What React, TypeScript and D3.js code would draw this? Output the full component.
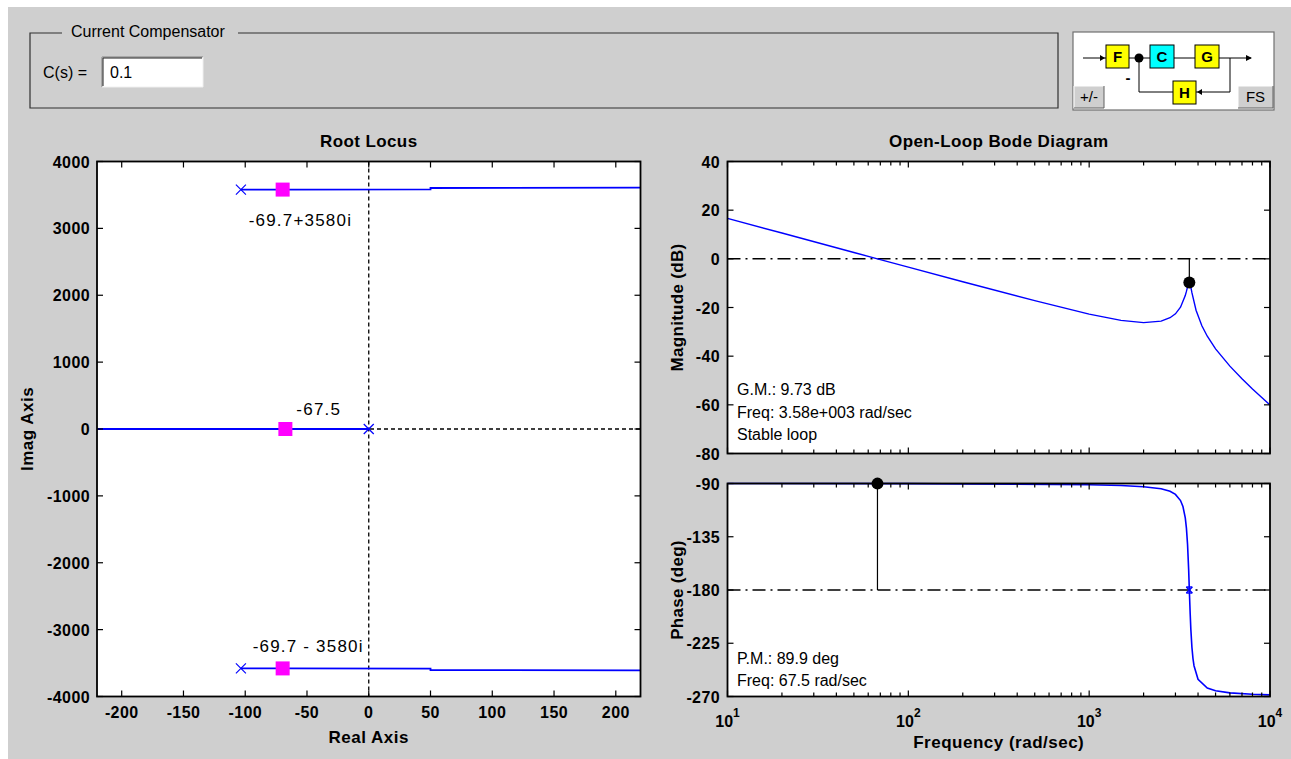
import React from "react";
import * as d3 from "d3";

// ---------- DATA ----------
const rlXTicks = [-200, -150, -100, -50, 0, 50, 100, 150, 200];
const rlYTicks = [-4000, -3000, -2000, -1000, 0, 1000, 2000, 3000, 4000];

// open-loop poles (re, im)
const olPoles: [number, number][] = [[-103.5, 3580], [-103.5, -3580], [0, 0]];
// closed-loop poles at current gain
const clPoles: [number, number][] = [[-69.7, 3580], [-67.5, 0], [-69.7, -3580]];
const clLabels = ["-69.7+3580i", "-67.5", "-69.7 - 3580i"];

// root locus branches (re, im)
const branchUpper: [number, number][] = [[-103.5, 3580], [-69.7, 3580], [50, 3582], [50, 3604], [220, 3608]];
const branchLower: [number, number][] = [[-103.5, -3580], [-69.7, -3580], [50, -3582], [50, -3604], [220, -3608]];
const branchReal: [number, number][] = [[0, 0], [-67.5, 0], [-220, 0]];

const magTicks = [40, 20, 0, -20, -40, -60, -80];
const phaseTicks = [-90, -135, -180, -225, -270];
const decadeTicks = [10, 100, 1000, 10000];
const decadeExp = ["1", "2", "3", "4"];

const magFreq = [10, 20, 50, 67.5, 100, 200, 500, 1000, 1500, 2000, 2500, 2800, 3000, 3200, 3400, 3450, 3500, 3550, 3580, 3620, 3650, 3700, 3900, 4200, 4500, 5000, 6000, 7000, 8000, 10000];
const magDb = [16.6, 10.6, 2.6, 0, -3.4, -9.4, -17.2, -22.7, -25.3, -26.2, -25.6, -24.2, -22.6, -19.9, -15.1, -13.4, -11.5, -10.0, -9.73, -10.5, -11.6, -13.9, -21.1, -27.5, -31.8, -37.0, -44.1, -49.3, -53.5, -60.1];

const phFreq = [10, 100, 1000, 1500, 2000, 2500, 2800, 3000, 3200, 3300, 3400, 3450, 3500, 3550, 3580, 3620, 3650, 3700, 3750, 3800, 4000, 4500, 5000, 6000, 8000, 10000];
const phDeg = [-90, -90.1, -91, -91.7, -92.7, -94.5, -96.6, -99.2, -104.4, -109.4, -119.1, -127.7, -141.5, -163, -180, -200.3, -213.3, -228.4, -237.9, -244, -255.4, -262.8, -265.1, -266.9, -268.1, -268.6];

const gmFreq = 3580;
const gmDb = -9.73;
const pmFreq = 67.5;
const pmPhase = -90.1;

const gmText = ["G.M.: 9.73 dB", "Freq: 3.58e+003 rad/sec", "Stable loop"];
const pmText = ["P.M.: 89.9 deg", "Freq: 67.5 rad/sec"];

// ---------- LAYOUT ----------
const BG = "#cfcfcf";
const FONT = "'Liberation Sans', Arial, sans-serif";
const RL = { l: 97, r: 640.5, t: 161.5, b: 696.5 };
const MAG = { l: 727.5, r: 1270, t: 161.5, b: 453.5 };
const PH = { l: 727.5, r: 1270, t: 483.5, b: 696.5 };
const labelOff: [number, number][] = [[-34, 36], [11, -14], [-30, -16]];

const rlX = d3.scaleLinear().domain([-220, 220]).range([RL.l, RL.r]);
const rlY = d3.scaleLinear().domain([-4000, 4000]).range([RL.b, RL.t]);
const fX = d3.scaleLog().domain([10, 10000]).range([MAG.l, MAG.r]);
const magY = d3.scaleLinear().domain([-80, 40]).range([MAG.b, MAG.t]);
const phY = d3.scaleLinear().domain([-270, -90]).range([PH.b, PH.t]);

const rlLine = d3.line<[number, number]>().x(d => rlX(d[0])).y(d => rlY(d[1]));
const magLine = d3.line<number>().x((_, i) => fX(magFreq[i])).y(d => magY(d));
const phLine = d3.line<number>().x((_, i) => fX(phFreq[i])).y(d => phY(d));

const minorTicks: number[] = [];
[10, 100, 1000].forEach(dec => { for (let k = 2; k <= 9; k++) minorTicks.push(dec * k); });

function Box({ b }: { b: { l: number; r: number; t: number; b: number } }) {
  return <rect x={b.l} y={b.t} width={b.r - b.l} height={b.b - b.t} fill="none" stroke="#000" strokeWidth={1.8} />;
}

function LogXTicks({ b }: { b: { l: number; r: number; t: number; b: number } }) {
  return (
    <g stroke="#000" strokeWidth={1.2}>
      {decadeTicks.map(v => (
        <g key={"M" + v}>
          <line x1={fX(v)} x2={fX(v)} y1={b.b} y2={b.b - 6} />
          <line x1={fX(v)} x2={fX(v)} y1={b.t} y2={b.t + 6} />
        </g>
      ))}
      {minorTicks.map(v => (
        <g key={"m" + v}>
          <line x1={fX(v)} x2={fX(v)} y1={b.b} y2={b.b - 4} />
          <line x1={fX(v)} x2={fX(v)} y1={b.t} y2={b.t + 4} />
        </g>
      ))}
    </g>
  );
}

function YTicks({ b, ticks, scale, labelX }: any) {
  return (
    <g>
      {ticks.map((v: number) => (
        <g key={v}>
          <line x1={b.l} x2={b.l + 6} y1={scale(v)} y2={scale(v)} stroke="#000" strokeWidth={1.2} />
          <line x1={b.r} x2={b.r - 6} y1={scale(v)} y2={scale(v)} stroke="#000" strokeWidth={1.2} />
          <text x={labelX} y={scale(v) + 6} textAnchor="end" fontWeight="bold" fontSize={16} letterSpacing={0.4}>{v}</text>
        </g>
      ))}
    </g>
  );
}

export default function App() {
  const dashDot = "13,5,2,5";
  return (
    <svg width={1291} height={759} style={{ position: "absolute", left: 0, top: 0, fontFamily: FONT }}>
      <rect x={0} y={0} width={1291} height={759} fill="#fff" />
      <rect x={8} y={7} width={1283} height={752} fill={BG} />

      {/* Current compensator group box */}
      <g>
        <polyline points="62,33 30,33 30,108 1058,108 1058,33 238,33" fill="none" stroke="#303030" strokeWidth={1.2} />
        <text x={71} y={37} fontSize={16}>Current Compensator</text>
        <text x={43} y={78} fontSize={16}>C(s) =</text>
        <rect x={102} y={57} width={101} height={30} fill="#fff" />
        <polyline points="102,87 102,57 203,57" fill="none" stroke="#808080" />
        <polyline points="103,86 103,58 202,58" fill="none" stroke="#202020" />
        <polyline points="102,87 203,87 203,57" fill="none" stroke="#f0f0f0" />
        <text x={110} y={78} fontSize={16}>0.1</text>
      </g>

      {/* Block diagram */}
      <g>
        <rect x={1073} y={32} width={201} height={78} fill="#fff" stroke="#707070" strokeWidth={1.2} />
        <g stroke="#000" strokeWidth={1} fill="none">
          <line x1={1083} y1={58} x2={1106} y2={58} />
          <line x1={1129} y1={58} x2={1150} y2={58} />
          <line x1={1174} y1={58} x2={1195} y2={58} />
          <line x1={1219} y1={58} x2={1251} y2={58} />
          <polyline points="1230,58 1230,92 1196,92" />
          <polyline points="1173,92 1139,92 1139,58" />
        </g>
        <path d="M1100,55 L1105,58 L1100,61 Z" fill="#000" />
        <path d="M1246,55 L1252,58 L1246,61 Z" fill="#000" />
        <path d="M1202,89 L1197,92 L1202,95 Z" fill="#000" />
        <circle cx={1139} cy={58} r={4.5} fill="#000" />
        <rect x={1106} y={45} width={23} height={23} fill="#ffff00" stroke="#000" />
        <rect x={1150} y={45} width={24} height={23} fill="#00ffff" stroke="#000" />
        <rect x={1195} y={45} width={24} height={23} fill="#ffff00" stroke="#000" />
        <rect x={1173} y={81} width={23} height={23} fill="#ffff00" stroke="#000" />
        <g fontSize={15} textAnchor="middle" fontWeight="bold">
          <text x={1117.5} y={62}>F</text>
          <text x={1162} y={62}>C</text>
          <text x={1207} y={62}>G</text>
          <text x={1184.5} y={98}>H</text>
          <text x={1128} y={83}>-</text>
        </g>
        {[[1074, 86, 30, "+/-"], [1238, 86, 35, "FS"]].map(([x, y, w, t]: any) => (
          <g key={t}>
            <rect x={x} y={y} width={w} height={22} fill={BG} />
            <polyline points={`${x},${y + 22} ${x},${y} ${x + w},${y}`} fill="none" stroke="#fff" />
            <polyline points={`${x},${y + 22} ${x + w},${y + 22} ${x + w},${y}`} fill="none" stroke="#606060" />
            <text x={x + w / 2} y={y + 16} fontSize={15} textAnchor="middle">{t}</text>
          </g>
        ))}
      </g>

      {/* ROOT LOCUS */}
      <rect x={RL.l} y={RL.t} width={RL.r - RL.l} height={RL.b - RL.t} fill="#fff" />
      <text x={(RL.l + RL.r) / 2} y={146.5} textAnchor="middle" fontWeight="bold" fontSize={17} letterSpacing={0.4}>Root Locus</text>
      <line x1={rlX(0)} x2={rlX(0)} y1={RL.t} y2={RL.b} stroke="#000" strokeWidth={1.3} strokeDasharray="4,3" />
      <line x1={RL.l} x2={RL.r} y1={rlY(0)} y2={rlY(0)} stroke="#000" strokeWidth={1.3} strokeDasharray="4,3" />
      {[branchUpper, branchLower, branchReal].map((br, i) => (
        <path key={i} d={rlLine(br) || ""} fill="none" stroke="#0000ff" strokeWidth={1.8} />
      ))}
      {olPoles.map(([re, im], i) => (
        <g key={i} stroke="#0000ff" strokeWidth={1.2}>
          <line x1={rlX(re) - 5} x2={rlX(re) + 5} y1={rlY(im) - 5} y2={rlY(im) + 5} />
          <line x1={rlX(re) - 5} x2={rlX(re) + 5} y1={rlY(im) + 5} y2={rlY(im) - 5} />
        </g>
      ))}
      {clPoles.map(([re, im], i) => (
        <g key={i}>
          <rect x={rlX(re) - 7} y={rlY(im) - 7} width={14} height={14} fill="#ff00ff" />
          <text x={rlX(re) + labelOff[i][0]} y={rlY(im) + labelOff[i][1]} fontSize={17} letterSpacing={1.2} fill="#000">{clLabels[i]}</text>
        </g>
      ))}
      <Box b={RL} />
      {rlXTicks.map(v => (
        <g key={v}>
          <line x1={rlX(v)} x2={rlX(v)} y1={RL.b} y2={RL.b - 6} stroke="#000" strokeWidth={1.2} />
          <line x1={rlX(v)} x2={rlX(v)} y1={RL.t} y2={RL.t + 6} stroke="#000" strokeWidth={1.2} />
          <text x={rlX(v)} y={718} textAnchor="middle" fontWeight="bold" fontSize={16} letterSpacing={0.4}>{v}</text>
        </g>
      ))}
      <YTicks b={RL} ticks={rlYTicks} scale={rlY} labelX={90} />
      <text x={(RL.l + RL.r) / 2} y={742.5} textAnchor="middle" fontWeight="bold" fontSize={17} letterSpacing={0.5}>Real Axis</text>
      <text transform={`translate(33,${(RL.t + RL.b) / 2}) rotate(-90)`} textAnchor="middle" fontWeight="bold" fontSize={17} letterSpacing={0.5}>Imag Axis</text>

      {/* BODE */}
      <text x={(MAG.l + MAG.r) / 2} y={146.5} textAnchor="middle" fontWeight="bold" fontSize={17} letterSpacing={0.4}>Open-Loop Bode Diagram</text>
      <rect x={MAG.l} y={MAG.t} width={MAG.r - MAG.l} height={MAG.b - MAG.t} fill="#fff" />
      <rect x={PH.l} y={PH.t} width={PH.r - PH.l} height={PH.b - PH.t} fill="#fff" />

      <line x1={MAG.l} x2={MAG.r} y1={magY(0)} y2={magY(0)} stroke="#000" strokeDasharray={dashDot} strokeWidth={1.5} />
      <line x1={fX(gmFreq)} x2={fX(gmFreq)} y1={magY(0)} y2={magY(gmDb)} stroke="#000" strokeWidth={1.2} />
      <path d={magLine(magDb) || ""} fill="none" stroke="#0000ff" strokeWidth={1.4} />
      <circle cx={fX(gmFreq)} cy={magY(gmDb)} r={6} fill="#000" />
      {gmText.map((t, i) => (
        <text key={t} x={737} y={395 + i * 22.5} fontSize={16}>{t}</text>
      ))}

      <line x1={PH.l} x2={PH.r} y1={phY(-180)} y2={phY(-180)} stroke="#000" strokeDasharray={dashDot} strokeWidth={1.5} />
      <line x1={fX(pmFreq)} x2={fX(pmFreq)} y1={phY(-180)} y2={phY(pmPhase)} stroke="#000" strokeWidth={1.2} />
      <path d={phLine(phDeg) || ""} fill="none" stroke="#0000ff" strokeWidth={1.6} />
      <circle cx={fX(pmFreq)} cy={phY(pmPhase)} r={6} fill="#000" />
      <g stroke="#0000ff" strokeWidth={1.4}>
        <line x1={fX(gmFreq) - 3} x2={fX(gmFreq) + 3} y1={phY(-180) - 3} y2={phY(-180) + 3} />
        <line x1={fX(gmFreq) - 3} x2={fX(gmFreq) + 3} y1={phY(-180) + 3} y2={phY(-180) - 3} />
        <line x1={fX(gmFreq) - 3} x2={fX(gmFreq) + 3} y1={phY(-180) - 3} y2={phY(-180) - 3} />
        <line x1={fX(gmFreq) - 3} x2={fX(gmFreq) + 3} y1={phY(-180) + 3} y2={phY(-180) + 3} />
      </g>
      {pmText.map((t, i) => (
        <text key={t} x={737} y={664 + i * 22} fontSize={16}>{t}</text>
      ))}

      <Box b={MAG} />
      <Box b={PH} />
      <LogXTicks b={MAG} />
      <LogXTicks b={PH} />
      <YTicks b={MAG} ticks={magTicks} scale={magY} labelX={720} />
      <YTicks b={PH} ticks={phaseTicks} scale={phY} labelX={720} />
      {decadeTicks.map((v, i) => (
        <text key={v} x={fX(v)} y={727} textAnchor="middle" fontWeight="bold" fontSize={16}>
          10<tspan dy={-10} fontSize={12}>{decadeExp[i]}</tspan>
        </text>
      ))}
      <text x={(PH.l + PH.r) / 2} y={748} textAnchor="middle" fontWeight="bold" fontSize={17} letterSpacing={0.5}>Frequency (rad/sec)</text>
      <text transform={`translate(683,${(MAG.t + MAG.b) / 2}) rotate(-90)`} textAnchor="middle" fontWeight="bold" fontSize={17} letterSpacing={0.3}>Magnitude (dB)</text>
      <text transform={`translate(683,${(PH.t + PH.b) / 2}) rotate(-90)`} textAnchor="middle" fontWeight="bold" fontSize={17} letterSpacing={0.3}>Phase (deg)</text>
    </svg>
  );
}
